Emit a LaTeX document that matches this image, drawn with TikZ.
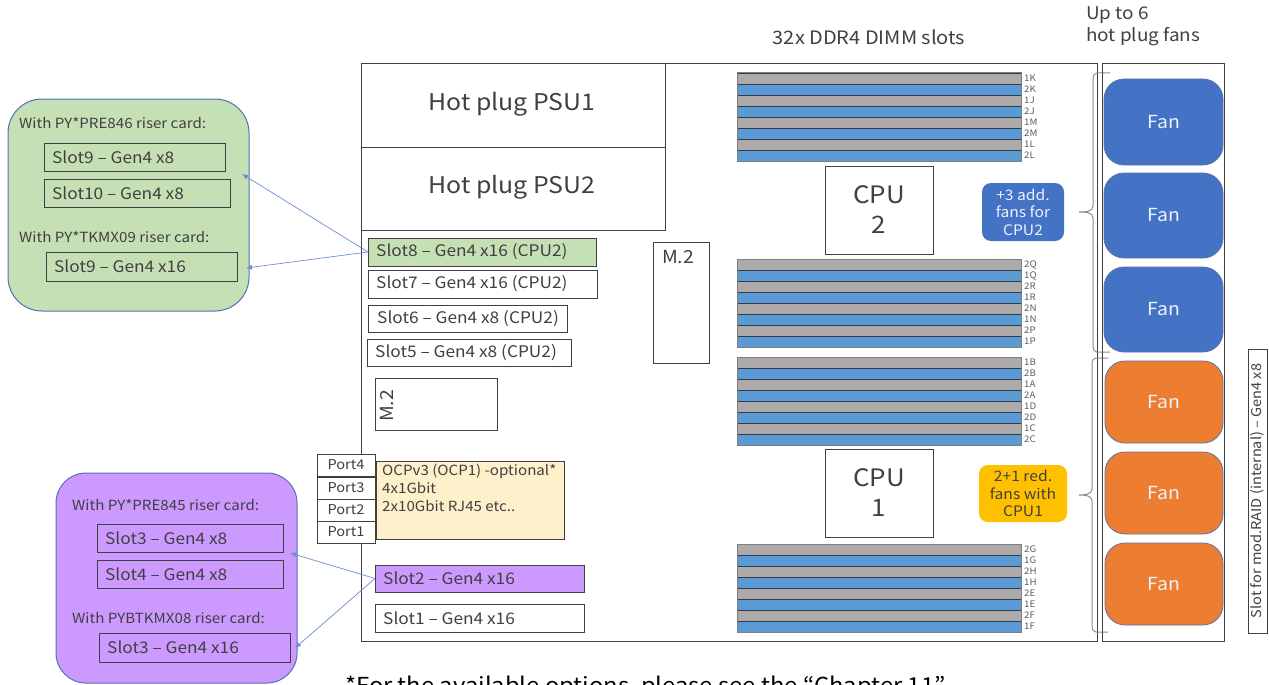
\documentclass[tikz,border=0pt]{standalone}
\usepackage{fontspec}
\setmainfont{Noto Sans CJK JP}[FakeStretch=1.08]
\usetikzlibrary{arrows.meta}

\definecolor{edge}{HTML}{404040}
\definecolor{txt}{HTML}{404040}
\definecolor{greenfill}{HTML}{C5E0B4}
\definecolor{purplefill}{HTML}{CC99FF}
\definecolor{ocpfill}{HTML}{FFF0CC}
\definecolor{fanblue}{HTML}{4472C4}
\definecolor{fanorange}{HTML}{ED7D31}
\definecolor{fanedge}{HTML}{5A76A8}
\definecolor{noteyellow}{HTML}{FFC000}
\definecolor{dimmgray}{HTML}{AEAAAA}
\definecolor{dimmblue}{HTML}{5B9BD5}
\definecolor{bardark}{HTML}{2E3B4E}
\definecolor{dimmedge}{HTML}{7F7F7F}
\definecolor{groupedge}{HTML}{4F72B8}
\definecolor{arrowblue}{HTML}{6A8FD0}
\definecolor{bracegray}{HTML}{8C8C8C}
\definecolor{fantext}{HTML}{EEF2FA}

\newcommand{\fs}[2]{\fontsize{#1}{#2}\selectfont}

% rectangle node given by its top-left and bottom-right corners
\newcommand{\bx}[6][]{%
  \node[box,#1,anchor=north west,minimum width={#5-#3},minimum height={#6-#4}] (#2) at (#3,#4) {};}

% one bank of eight DIMM slots
\newcommand{\dimmgroup}[2]{%
  \foreach \lab [count=\k from 0] in {#2}{%
    \pgfmathsetmacro{\yy}{#1+11*\k}%
    \ifodd\k \def\barcol{dimmblue}\else\def\barcol{dimmgray}\fi
    \draw[draw=bardark, line width=0.7pt, fill=\barcol] (737,\yy) rectangle (1021,\yy+11);
    \node[dimlbl, anchor=west] (dimm-\lab) at (1024,\yy+5.5) {\lab};
  }%
  \draw[draw=dimmedge, line width=1pt] (737,#1) rectangle (1021,#1+88);
}

\tikzset{
  box/.style={draw=edge, line width=1pt, inner sep=0pt, outer sep=0pt},
  lbl/.style={text=txt, inner sep=0pt, font=\fs{16}{19}},
  small/.style={text=txt, inner sep=0pt, font=\fs{14}{17}},
  head/.style={text=txt, inner sep=0pt, font=\fs{18.5}{22}},
  psulbl/.style={text=txt, inner sep=0pt, font=\fs{23}{27}},
  portlbl/.style={text=txt, inner sep=0pt, font=\fs{13.5}{15}},
  dimlbl/.style={text=txt!85, inner sep=0pt, font=\fs{9}{10}},
  cpulbl/.style={text=txt, inner sep=0pt, align=center, font=\fs{24}{30}},
  notelbl/.style={inner sep=0pt, align=center, font=\fs{14.5}{17.5}},
  fanbox/.style={box, draw=fanedge, line width=0.8pt, rounded corners=20pt},
  fanlbl/.style={text=fantext, inner sep=0pt, font=\fs{18}{20}},
  conn/.style={draw=arrowblue, line width=0.7pt, -{Latex[length=6pt,width=5pt]}},
  brace/.style={draw=bracegray, line width=1pt},
}

\begin{document}
\begin{tikzpicture}[x=1pt,y=-1pt]
\useasboundingbox (0,0) rectangle (1269,685);
\fill[white] (0,0) rectangle (1269,685);

% headings
\node[head] (dimmhead) at (869,37) {32x DDR4 DIMM slots};
\node[head, font=\fs{17.5}{22}, align=left, anchor=north west] (fanhead) at (1086,6) {Up to 6\\hot plug fans};

% mainboard
\bx{board}{361}{64}{1097}{641}
\bx{psu1}{361}{64}{665}{147}
\bx{psu2}{361}{147}{665}{230}
\node[psulbl] (psu1t) at (512,104) {Hot plug PSU1};
\node[psulbl] (psu2t) at (512,187) {Hot plug PSU2};

% PCIe slots (CPU2)
\bx[fill=greenfill]{s8}{368}{238}{596}{266}
\bx{s7}{368}{270}{597}{298}
\bx{s6}{368}{305}{567}{332}
\bx{s5}{367}{339}{571}{366}
\node[lbl, anchor=west] (s8t) at ([xshift=8pt]s8.west) {Slot8 – Gen4 x16 (CPU2)};
\node[lbl, anchor=west] (s7t) at ([xshift=8pt]s7.west) {Slot7 – Gen4 x16 (CPU2)};
\node[lbl, anchor=west] (s6t) at ([xshift=9pt]s6.west) {Slot6 – Gen4 x8 (CPU2)};
\node[lbl, anchor=west] (s5t) at ([xshift=8pt]s5.west) {Slot5 – Gen4 x8 (CPU2)};

% M.2 sockets
\bx{m2a}{375}{378}{497}{430}
\node[lbl, font=\fs{18}{20}, rotate=90] (m2at) at (387,406) {M.2};
\bx{m2b}{653}{242}{709}{363}
\node[lbl, font=\fs{18}{20}] (m2bt) at (678,257) {M.2};

% OCP module and ports
\bx[fill=ocpfill]{ocp}{376}{461}{564}{539}
\node[small, font=\fs{14}{18}, align=left, anchor=north west] (ocpt) at (382,464) {OCPv3 (OCP1) -optional*\\4x1Gbit\\2x10Gbit RJ45 etc..};
\bx[fill=white]{port4}{317}{454}{375}{476}
\bx[fill=white]{port3}{317}{477}{375}{499}
\bx[fill=white]{port2}{317}{499}{375}{521}
\bx[fill=white]{port1}{317}{521}{375}{543}
\node[portlbl] (port4t) at (port4.center) {Port4};
\node[portlbl] (port3t) at (port3.center) {Port3};
\node[portlbl] (port2t) at (port2.center) {Port2};
\node[portlbl] (port1t) at (port1.center) {Port1};

% PCIe slots (CPU1)
\bx[fill=purplefill]{s2}{375}{565}{584}{592}
\bx{s1}{375}{604}{584}{632}
\node[lbl, anchor=west] (s2t) at ([xshift=8pt]s2.west) {Slot2 – Gen4 x16};
\node[lbl, anchor=west] (s1t) at ([xshift=8pt]s1.west) {Slot1 – Gen4 x16};

% CPUs
\bx{cpu2}{825}{166}{933}{254}
\bx{cpu1}{825}{449}{933}{537}
\node[cpulbl] (cpu2t) at (cpu2.center) {CPU\\2};
\node[cpulbl] (cpu1t) at (cpu1.center) {CPU\\1};

% memory banks
\dimmgroup{73}{1K,2K,1J,2J,1M,2M,1L,2L}
\dimmgroup{259}{2Q,1Q,2R,1R,2N,1N,2P,1P}
\dimmgroup{357}{1B,2B,1A,2A,1D,2D,1C,2C}
\dimmgroup{544}{2G,1G,2H,1H,2E,1E,2F,1F}

% fan notes
\bx[rounded corners=9pt, fill=fanblue, draw=none]{note2}{982}{183}{1064}{241}
\node[notelbl, text=fantext] (note2t) at (note2.center) {+3 add.\\fans for\\CPU2};
\bx[rounded corners=9pt, fill=noteyellow, draw=none]{note1}{979}{465}{1067}{522}
\node[notelbl, text=txt] (note1t) at (note1.center) {2+1 red.\\fans with\\CPU1};

% braces grouping the fans
\draw[brace] (1110,73) -- (1097,73) to[out=180,in=90] (1093,78) -- (1093,206)
  to[out=-90,in=0] (1079,212) to[out=0,in=90] (1093,218) -- (1093,347)
  to[out=-90,in=180] (1097,352) -- (1110,352);
\draw[brace] (1108,358) -- (1096,358) to[out=180,in=90] (1092,363) -- (1092,489)
  to[out=-90,in=0] (1079,495) to[out=0,in=90] (1092,501) -- (1092,627)
  to[out=-90,in=180] (1096,632) -- (1108,632);

% fan bay
\bx{fancol}{1102}{64}{1224}{641}
\bx[fanbox, fill=fanblue]{fan1}{1104}{79}{1223}{165}
\bx[fanbox, fill=fanblue]{fan2}{1104}{173}{1223}{258}
\bx[fanbox, fill=fanblue]{fan3}{1104}{267}{1223}{352}
\bx[fanbox, fill=fanorange]{fan4}{1105}{361}{1223}{443}
\bx[fanbox, fill=fanorange]{fan5}{1105}{452}{1223}{534}
\bx[fanbox, fill=fanorange]{fan6}{1105}{543}{1223}{625}
\foreach \f in {1,...,6}{\node[fanlbl] (fan\f t) at (fan\f.center) {Fan};}

% internal RAID slot
\bx{raid}{1248}{349}{1267}{633}
\node[small, font=\fs{13.5}{16}, rotate=90] (raidt) at (raid.center) {Slot for mod.RAID (internal) – Gen4 x8};

% riser options for Slot8
\bx[rounded corners=34pt, fill=greenfill, draw=groupedge]{riserA}{8}{99}{249}{311}
\node[small, anchor=west] (riserAt1) at (19,123) {With PY*PRE846 riser card:};
\bx{ra9}{44}{143}{225}{171}
\bx{ra10}{44}{179}{230}{207}
\node[small, anchor=west] (riserAt2) at (19,237) {With PY*TKMX09 riser card:};
\bx{ra9b}{46}{252}{237}{281}
\node[lbl, anchor=west] (ra9t) at ([xshift=8pt]ra9.west) {Slot9 – Gen4 x8};
\node[lbl, anchor=west] (ra10t) at ([xshift=8pt]ra10.west) {Slot10 – Gen4 x8};
\node[lbl, anchor=west] (ra9bt) at ([xshift=8pt]ra9b.west) {Slot9 – Gen4 x16};

% riser options for Slot2
\bx[rounded corners=30pt, fill=purplefill, draw=groupedge]{riserB}{56}{473}{297}{683}
\node[small, anchor=west] (riserBt1) at (72,505) {With PY*PRE845 riser card:};
\bx{rb3}{97}{524}{283}{552}
\bx{rb4}{97}{560}{283}{588}
\node[small, anchor=west] (riserBt2) at (72,618) {With PYBTKMX08 riser card:};
\bx{rb3b}{99}{633}{290}{662}
\node[lbl, anchor=west] (rb3t) at ([xshift=8pt]rb3.west) {Slot3 – Gen4 x8};
\node[lbl, anchor=west] (rb4t) at ([xshift=8pt]rb4.west) {Slot4 – Gen4 x8};
\node[lbl, anchor=west] (rb3bt) at ([xshift=8pt]rb3b.west) {Slot3 – Gen4 x16};

% connectors from the slots to their riser options
\coordinate (tipA1) at (242,174);
\coordinate (tipA2) at (246,268);
\coordinate (tipB1) at (290,553);
\coordinate (tipB2) at (295,648);
\draw[conn] (s8.west) -- (tipA1);
\draw[conn] (s8.west) -- (tipA2);
\draw[conn] (s2.west) -- (tipB1);
\draw[conn] (s2.west) -- (tipB2);

% footnote, running past the lower edge of the sheet
\node[inner sep=0pt, text=black, font=\fs{22}{26}, anchor=north west] (foot) at (345,676) {*For the available options, please see the “Chapter 11”};
\end{tikzpicture}
\end{document}
